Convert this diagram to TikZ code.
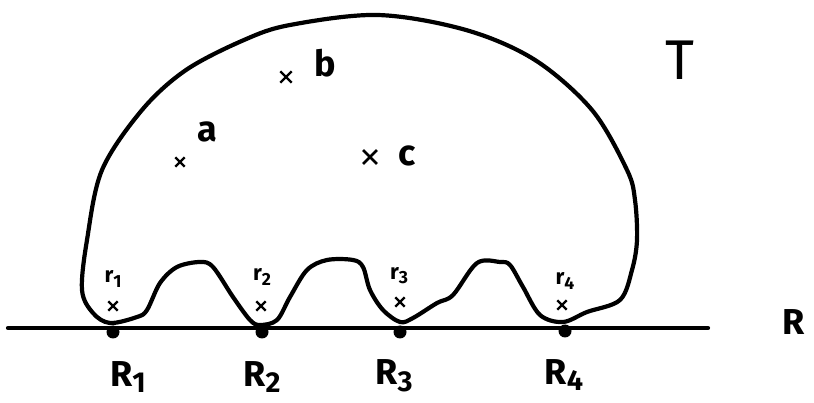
\documentclass[tikz,border=0pt]{standalone}
\usepackage{fontspec}
\setmainfont{Fira Sans}
\usetikzlibrary{shapes.misc}
\newcommand{\sbx}[1]{\raisebox{-0.35ex}{\scalebox{0.8}{#1}}}
\tikzset{
  curve/.style={line width=4.2pt, line join=round, line cap=round},
  xsmall/.style={cross out, draw, line width=2.4pt, minimum size=7pt, inner sep=0pt},
  xbig/.style={cross out, draw, line width=2.8pt, minimum size=11pt, inner sep=0pt},
  dot/.style={circle, fill, minimum size=13pt, inner sep=0pt},
  biglbl/.style={font=\fontsize{36}{38}\selectfont\bfseries, inner sep=0pt},
  smalllbl/.style={font=\fontsize{22}{24}\selectfont\bfseries, inner sep=0pt},
  midlbl/.style={font=\fontsize{36}{38}\selectfont\bfseries, inner sep=0pt},
}
\begin{document}
\begin{tikzpicture}[x=1pt,y=-1pt]
\useasboundingbox (0,0) rectangle (814,403);
% baseline R
\coordinate (Lstart) at (8,328);
\coordinate (Lend) at (708,328);
\draw[curve] (Lstart) -- (Lend);
% region T
\draw[curve] plot[smooth cycle, tension=0.55] coordinates {
 (110,323) (137,317) (147,310) (160,283) (177,267) (200,262) (213,267) (233,297) (250,320) (260,325)
 (277,320) (290,297) (307,270) (327,260) (353,260) (363,267) (370,290) (383,310) (400,322)
 (413,318) (437,303) (453,295) (477,263) (500,262) (510,265) (523,287) (540,315) (563,322)
 (587,312) (620,300) (632,270) (637,240) (635,200) (627,170) (592,110) (535,60) (466,30)
 (378,15) (290,25) (244,40) (186,70) (142,110) (102,170) (87,240) (82,290) (93,313)};
% points on R
\node[dot] (R1) at (113,332) {};
\node[dot] (R2) at (262,332) {};
\node[dot] (R3) at (400,332) {};
\node[dot] (R4) at (565,331) {};
\node[biglbl] (lR1) at (128,377) {R\sbx{1}};
\node[biglbl] (lR2) at (262,377) {R\sbx{2}};
\node[biglbl] (lR3) at (394,376) {R\sbx{3}};
\node[biglbl] (lR4) at (564,375) {R\sbx{4}};
\node[biglbl] (lR) at (794,322) {R};
\node[font=\fontsize{56}{58}\selectfont, inner sep=0pt] (lT) at (680,60) {T};
% r points
\node[xsmall] (r1) at (113,306) {};
\node[xsmall] (r2) at (261,306) {};
\node[xsmall] (r3) at (400,302) {};
\node[xsmall] (r4) at (562,305) {};
\node[smalllbl] (lr1) at (113,279) {r\sbx{1}};
\node[smalllbl] (lr2) at (262,277) {r\sbx{2}};
\node[smalllbl] (lr3) at (399,276) {r\sbx{3}};
\node[smalllbl] (lr4) at (565,281) {r\sbx{4}};
% a, b, c
\node[xsmall] (a) at (180,162) {};
\node[midlbl] (la) at (207,132) {a};
\node[xsmall, minimum size=9pt] (b) at (286,77) {};
\node[midlbl] (lb) at (325,63) {b};
\node[xbig] (c) at (370,157) {};
\node[midlbl] (lc) at (407,156) {c};
\end{tikzpicture}
\end{document}
